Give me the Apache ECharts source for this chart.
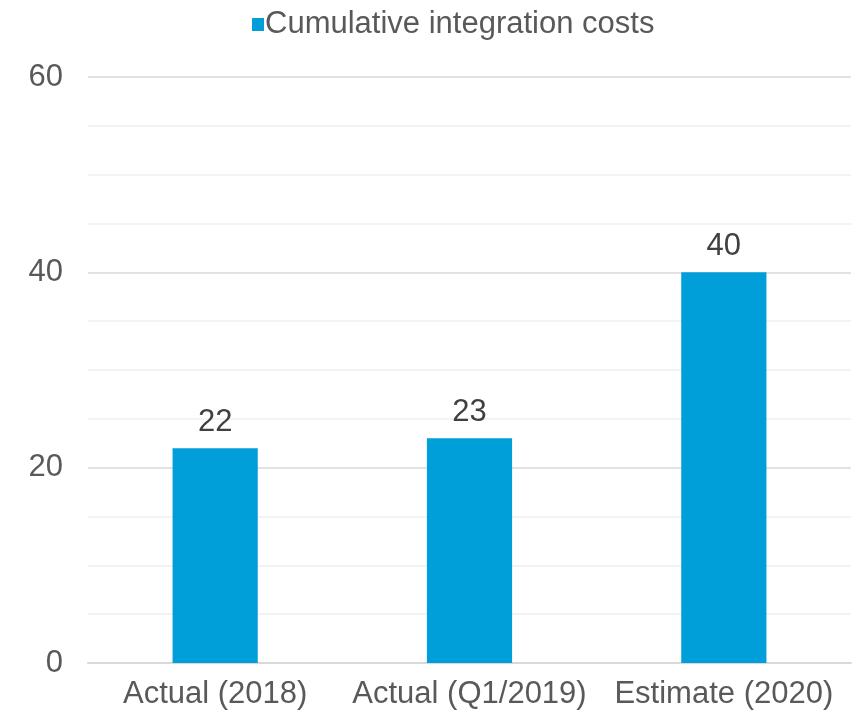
<!DOCTYPE html>
<html><head><meta charset="utf-8">
<script src="https://cdn.jsdelivr.net/npm/echarts@6/dist/echarts.min.js"></script>
<style>html,body{margin:0;padding:0;background:#fff}#c{width:866px;height:719px}</style>
</head><body><div id="c"></div>
<script>
const categories = ['Actual (2018)', 'Actual (Q1/2019)', 'Estimate (2020)'];
const costs = [22, 23, 40];
const seriesName = 'Cumulative integration costs';

const FONT = 'Liberation Sans, Arial, sans-serif';
const chart = echarts.init(document.getElementById('c'));
chart.setOption({
  animation: false,
  textStyle: { fontFamily: FONT },
  legend: {
    top: 4, left: 247,
    itemWidth: 12, itemHeight: 13, itemGap: 10,
    icon: 'rect',
    textStyle: { fontSize: 31, color: '#595959', fontFamily: FONT, padding: [0, 0, 0, -4] },
    data: [seriesName]
  },
  grid: { left: 88, right: 15, top: 77, bottom: 56, containLabel: false },
  xAxis: {
    type: 'category', data: categories,
    axisLine: { lineStyle: { color: '#d9d9d9', width: 2 } },
    axisTick: { show: false },
    axisLabel: { fontSize: 31, color: '#595959', margin: 16, interval: 0, hideOverlap: false }
  },
  yAxis: {
    type: 'value', min: 0, max: 60, interval: 20,
    axisLine: { show: false }, axisTick: { show: false },
    axisLabel: { fontSize: 31, color: '#595959', margin: 25 },
    splitLine: { lineStyle: { color: '#d9d9d9', width: 1.5 } },
    minorTick: { show: false, splitNumber: 4 },
    minorSplitLine: { show: true, lineStyle: { color: '#f0f0f0', width: 1.5 } }
  },
  series: [{
    name: seriesName, type: 'bar', data: costs, barWidth: '33.5%',
    itemStyle: { color: '#009fda' },
    label: { show: true, position: 'top', distance: 10, fontSize: 31, color: '#404040' }
  }]
});
</script></body></html>
